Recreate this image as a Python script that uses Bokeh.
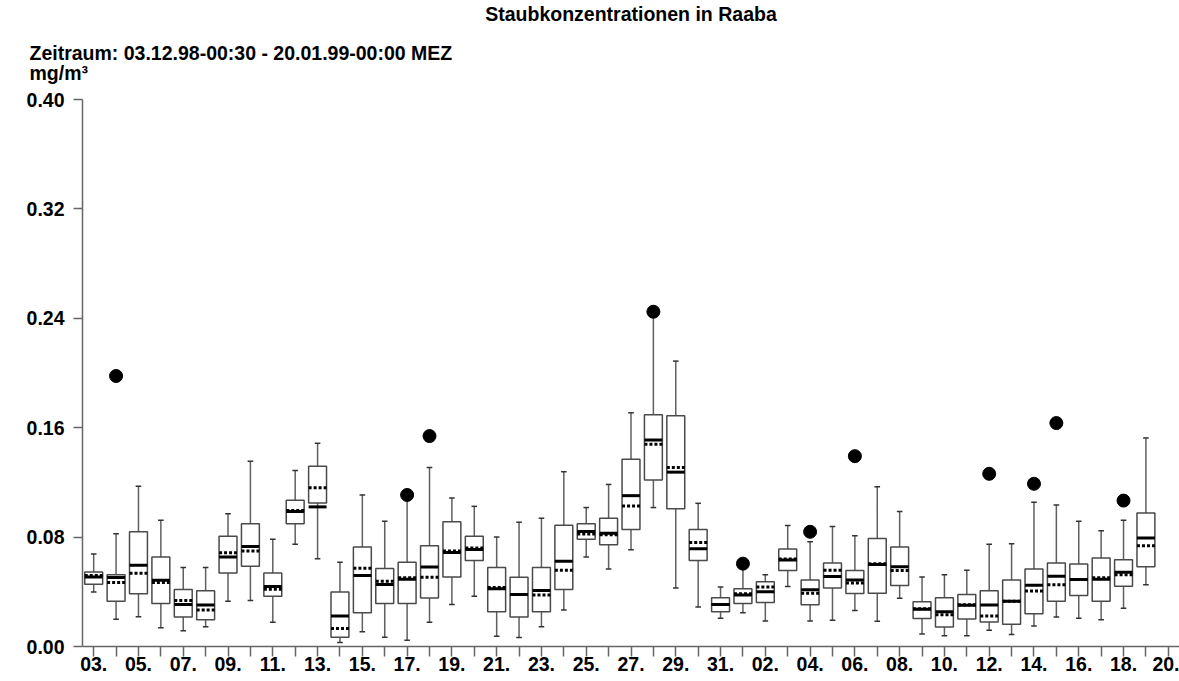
from bokeh.plotting import figure
from bokeh.models import Range1d, FixedTicker, Title, ColumnDataSource, NumeralTickFormatter
from bokeh.embed import file_html
from bokeh.resources import INLINE

# ---- data ----
days = ["03.12.98", "04.12.98", "05.12.98", "06.12.98", "07.12.98", "08.12.98", "09.12.98",
        "10.12.98", "11.12.98", "12.12.98", "13.12.98", "14.12.98", "15.12.98", "16.12.98",
        "17.12.98", "18.12.98", "19.12.98", "20.12.98", "21.12.98", "22.12.98", "23.12.98",
        "24.12.98", "25.12.98", "26.12.98", "27.12.98", "28.12.98", "29.12.98", "30.12.98",
        "31.12.98", "01.01.99", "02.01.99", "03.01.99", "04.01.99", "05.01.99", "06.01.99",
        "07.01.99", "08.01.99", "09.01.99", "10.01.99", "11.01.99", "12.01.99", "13.01.99",
        "14.01.99", "15.01.99", "16.01.99", "17.01.99", "18.01.99", "19.01.99"]

tick_labels = ["03.", "", "05.", "", "07.", "", "09.", "", "11.", "", "13.", "", "15.", "",
               "17.", "", "19.", "", "21.", "", "23.", "", "25.", "", "27.", "", "29.", "",
               "31.", "", "02.", "", "04.", "", "06.", "", "08.", "", "10.", "", "12.", "",
               "14.", "", "16.", "", "18.", "", "20."]

whisker_low = [0.0398, 0.0199, 0.0218, 0.0138, 0.0116, 0.0145, 0.0330, 0.0337, 0.0177, 0.0747,
               0.0642, 0.0029, 0.0107, 0.0068, 0.0046, 0.0177, 0.0308, 0.0368, 0.0075, 0.0065,
               0.0145, 0.0267, 0.0655, 0.0567, 0.0708, 0.1016, 0.0427, 0.0288, 0.0206, 0.0247,
               0.0187, 0.0439, 0.0187, 0.0192, 0.0264, 0.0184, 0.0352, 0.0092, 0.0078, 0.0078,
               0.0119, 0.0087, 0.0150, 0.0216, 0.0206, 0.0196, 0.0279, 0.0451]
q1 = [0.0456, 0.0330, 0.0385, 0.0315, 0.0216, 0.0196, 0.0538, 0.0587, 0.0368, 0.0897,
      0.1050, 0.0068, 0.0247, 0.0315, 0.0315, 0.0355, 0.0509, 0.0628, 0.0255, 0.0216,
      0.0255, 0.0417, 0.0785, 0.0744, 0.0856, 0.1217, 0.1008, 0.0628, 0.0255, 0.0315,
      0.0322, 0.0555, 0.0305, 0.0427, 0.0388, 0.0390, 0.0446, 0.0204, 0.0143, 0.0201,
      0.0179, 0.0162, 0.0240, 0.0330, 0.0373, 0.0330, 0.0441, 0.0584]
median = [0.0509, 0.0504, 0.0594, 0.0485, 0.0308, 0.0303, 0.0655, 0.0732, 0.0439, 0.0987,
          0.1021, 0.0223, 0.0519, 0.0453, 0.0492, 0.0582, 0.0688, 0.0710, 0.0422, 0.0381,
          0.0410, 0.0623, 0.0841, 0.0829, 0.1103, 0.1510, 0.1275, 0.0715, 0.0308, 0.0376,
          0.0400, 0.0633, 0.0415, 0.0512, 0.0487, 0.0599, 0.0584, 0.0272, 0.0255, 0.0301,
          0.0303, 0.0330, 0.0448, 0.0514, 0.0490, 0.0492, 0.0543, 0.0793]
mean = [0.0519, 0.0468, 0.0536, 0.0468, 0.0337, 0.0267, 0.0686, 0.0698, 0.0419, 0.0994,
        0.1161, 0.0131, 0.0572, 0.0478, 0.0502, 0.0507, 0.0698, 0.0720, 0.0432, 0.0381,
        0.0376, 0.0558, 0.0822, 0.0817, 0.1028, 0.1479, 0.1309, 0.0761, 0.0308, 0.0385,
        0.0436, 0.0640, 0.0390, 0.0558, 0.0465, 0.0606, 0.0555, 0.0276, 0.0233, 0.0305,
        0.0223, 0.0330, 0.0405, 0.0451, 0.0490, 0.0502, 0.0524, 0.0737]
q3 = [0.0545, 0.0524, 0.0839, 0.0655, 0.0417, 0.0407, 0.0807, 0.0897, 0.0538, 0.1069,
      0.1319, 0.0398, 0.0727, 0.0570, 0.0616, 0.0737, 0.0912, 0.0807, 0.0577, 0.0507,
      0.0577, 0.0887, 0.0897, 0.0938, 0.1370, 0.1695, 0.1687, 0.0856, 0.0356, 0.0422,
      0.0473, 0.0713, 0.0487, 0.0611, 0.0555, 0.0790, 0.0727, 0.0327, 0.0356, 0.0381,
      0.0407, 0.0487, 0.0567, 0.0611, 0.0604, 0.0647, 0.0635, 0.0977]
whisker_high = [0.0676, 0.0824, 0.1171, 0.0924, 0.0577, 0.0577, 0.0970, 0.1355, 0.0785, 0.1287,
                0.1486, 0.0616, 0.1108, 0.0916, 0.1108, 0.1309, 0.1086, 0.1025, 0.0800, 0.0909,
                0.0938, 0.1278, 0.1016, 0.1185, 0.1709, 0.2448, 0.2087, 0.1047, 0.0436, 0.0606,
                0.0524, 0.0885, 0.0766, 0.0878, 0.0810, 0.1168, 0.0987, 0.0509, 0.0524, 0.0558,
                0.0747, 0.0752, 0.1055, 0.1035, 0.0916, 0.0846, 0.0924, 0.1525]

outlier_days = ["04.12.98", "17.12.98", "18.12.98", "28.12.98", "01.01.99", "04.01.99",
                "06.01.99", "12.01.99", "14.01.99", "15.01.99", "18.01.99"]
outlier_values = [0.1978, 0.1108, 0.1539, 0.2448, 0.0606, 0.0839,
                  0.1392, 0.1263, 0.1190, 0.1634, 0.1067]

y_ticks = [0.0, 0.08, 0.16, 0.24, 0.32, 0.40]

# ---- figure ----
FONT = "Liberation Sans"
W, H = 1179, 681
TOP, BOTTOM, LEFT = 98, 35, 82

p = figure(width=W, height=H, output_backend="svg", toolbar_location=None, title=None,
           x_range=Range1d(-0.5, len(tick_labels) - 0.5), y_range=Range1d(0, 0.40),
           min_border_left=LEFT, min_border_right=0, min_border_top=TOP,
           min_border_bottom=BOTTOM)
p.xgrid.visible = False
p.ygrid.visible = False
p.outline_line_color = None
p.background_fill_color = "white"
p.border_fill_color = "white"

axis_col = "#666666"
for ax in (p.xaxis, p.yaxis):
    ax.axis_line_color = axis_col
    ax.axis_line_width = 1.5
    ax.major_tick_line_color = axis_col
    ax.major_tick_line_width = 1.5
    ax.major_tick_in = 0
    ax.minor_tick_line_color = None
    ax.major_label_text_font = FONT
    ax.major_label_text_font_style = "bold"
    ax.major_label_text_font_size = "19.5px"
    ax.major_label_text_color = "black"

p.xaxis.ticker = FixedTicker(ticks=list(range(len(tick_labels))))
p.xaxis.major_label_overrides = {i: t for i, t in enumerate(tick_labels)}
p.xaxis.major_tick_out = 10
p.xaxis.major_label_standoff = 0

p.yaxis.ticker = FixedTicker(ticks=y_ticks)
p.yaxis.formatter = NumeralTickFormatter(format="0.00")
p.yaxis.major_tick_out = 9
p.yaxis.major_label_standoff = 9

# ---- boxes ----
xs = list(range(len(days)))
half_box = 0.4
half_cap = 0.125
src = ColumnDataSource(dict(
    x=xs,
    left=[x - half_box for x in xs], right=[x + half_box for x in xs],
    capl=[x - half_cap for x in xs], capr=[x + half_cap for x in xs],
    wlo=whisker_low, q1=q1, med=median, mean=mean, q3=q3, whi=whisker_high,
))

whisk_col = "#606060"
p.segment(x0="x", y0="q3", x1="x", y1="whi", source=src, line_color=whisk_col, line_width=1.5)
p.segment(x0="x", y0="q1", x1="x", y1="wlo", source=src, line_color=whisk_col, line_width=1.5)
p.segment(x0="capl", y0="whi", x1="capr", y1="whi", source=src, line_color="#333333", line_width=1.5)
p.segment(x0="capl", y0="wlo", x1="capr", y1="wlo", source=src, line_color="#333333", line_width=1.5)
p.quad(left="left", right="right", bottom="q1", top="q3", source=src,
       fill_color="white", line_color="#4a4a4a", line_width=1.5)
p.segment(x0="left", y0="med", x1="right", y1="med", source=src, line_color="black", line_width=3)
p.segment(x0="left", y0="mean", x1="right", y1="mean", source=src, line_color="black",
          line_width=3, line_dash="3 2")

ox = [days.index(d) for d in outlier_days]
p.scatter(x=ox, y=outlier_values, size=13, marker="circle", fill_color="black", line_color="black")

# ---- titles (stacked above the frame; first added is closest) ----
p.add_layout(Title(text="Zeitraum: 03.12.98-00:30 - 20.01.99-00:00 MEZ\nmg/m³", align="left",
                   offset=29 - LEFT, standoff=30, text_font=FONT, text_font_style="bold",
                   text_font_size="19.5px", text_color="black", text_line_height=0.95),
             "above")
p.add_layout(Title(text="Staubkonzentrationen in Raaba", align="center", standoff=0,
                   text_font=FONT, text_font_style="bold", text_font_size="19.5px",
                   text_color="black"), "above")

open("out.html", "w").write(file_html(p, INLINE))
